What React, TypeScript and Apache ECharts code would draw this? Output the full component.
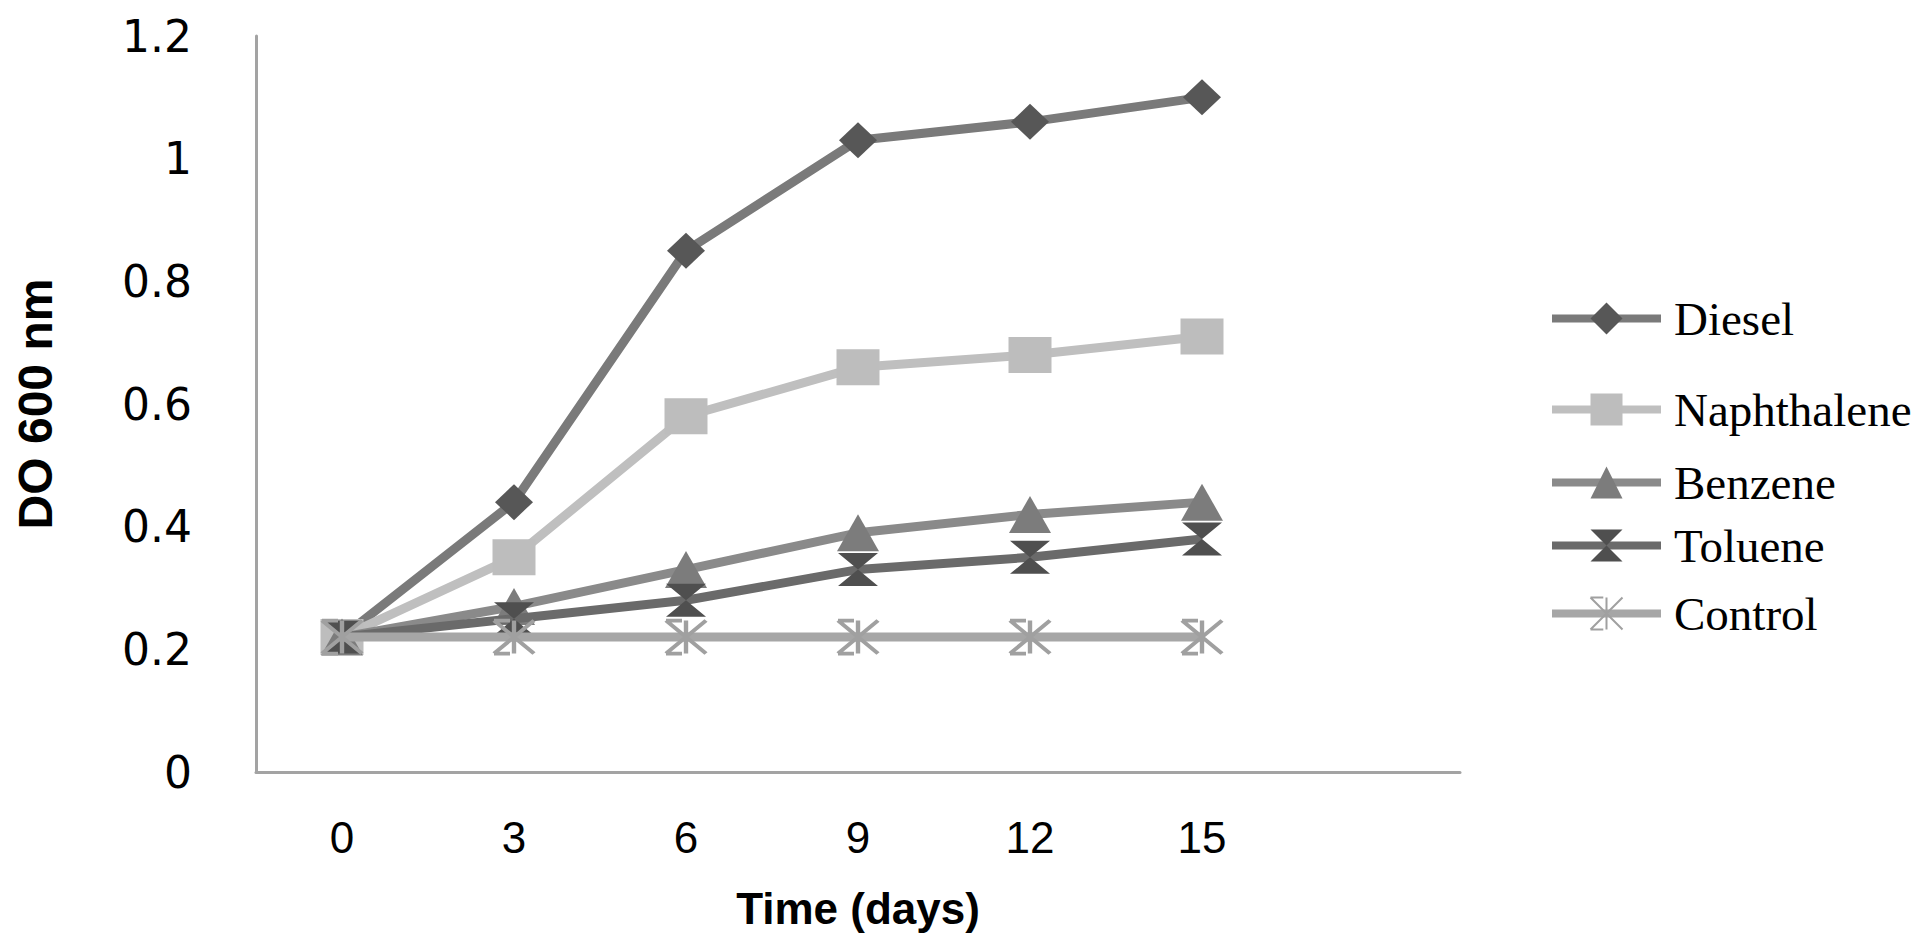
import React, { useEffect, useRef } from "react";
import * as echarts from "echarts";

const days = ["0", "3", "6", "9", "12", "15", ""];
const seriesNames = ["Diesel", "Naphthalene", "Benzene", "Toluene", "Control"];
const diesel = [0.22, 0.44, 0.85, 1.03, 1.06, 1.1];
const naphthalene = [0.22, 0.35, 0.58, 0.66, 0.68, 0.71];
const benzene = [0.22, 0.27, 0.33, 0.39, 0.42, 0.44];
const toluene = [0.22, 0.25, 0.28, 0.33, 0.35, 0.38];
const control = [0.22, 0.22, 0.22, 0.22, 0.22, 0.22];
const yTicks = [0, 0.2, 0.4, 0.6, 0.8, 1, 1.2];

const hourglass = "path://M0,0 L10,0 L5,5 L10,10 L0,10 L5,5 Z";
const star = "path://M0,0 L10,10 M10,0 L0,10 M5,0 L5,10 M0,0 L4,0 M0,10 L4,10";

export default function App() {
  const ref = useRef<HTMLDivElement>(null);
  useEffect(() => {
    if (!ref.current) return;
    const chart = echarts.init(ref.current, null, { renderer: "svg" });
    const values = [diesel, naphthalene, benzene, toluene, control];
    const lineColors = ["#7a7a7a", "#bfbfbf", "#8a8a8a", "#6a6a6a", "#a6a6a6"];
    const markColors = ["#575757", "#bdbdbd", "#7c7c7c", "#4f4f4f", "#a0a0a0"];
    const symbols = ["diamond", "rect", "triangle", hourglass, star];
    const sizes = [[38, 36], [43, 36], [42, 37], [40, 33], [40, 33]];
    const legendY = [315, 406, 479, 542, 610];

    const series = seriesNames.map((name, i) => ({
      name,
      type: "line",
      data: values[i],
      symbol: symbols[i],
      symbolSize: sizes[i],
      symbolKeepAspect: false,
      showAllSymbol: true,
      lineStyle: { color: lineColors[i], width: 9 },
      itemStyle:
        i === 4
          ? { color: markColors[i], borderColor: markColors[i], borderWidth: 4 }
          : { color: markColors[i], borderWidth: 0 },
      emphasis: { disabled: true },
      z: 2 + i,
    }));

    const legend = seriesNames.map((name, i) => ({
      data: [name],
      orient: "vertical",
      left: 1548,
      top: legendY[i] - 20,
      itemWidth: 109,
      itemHeight: 40,
      padding: 0,
      selectedMode: false,
      lineStyle: { width: 8 },
      textStyle: {
        fontFamily: "'Liberation Serif', 'Times New Roman', serif",
        fontSize: 47,
        color: "#000",
        padding: [0, 0, 0, 8],
      },
    }));

    chart.setOption({
      animation: false,
      backgroundColor: "#fff",
      grid: { left: 256, right: 456, top: 36, bottom: 172, outerBoundsMode: "none", containLabel: false },
      legend,
      xAxis: {
        type: "category",
        data: days,
        boundaryGap: true,
        axisLine: { lineStyle: { color: "#a3a3a3", width: 3 } },
        axisTick: { show: false },
        axisLabel: {
          margin: 43,
          fontFamily: "'Liberation Sans Narrow', 'Arial Narrow', 'Liberation Sans', sans-serif",
          fontSize: 44,
          color: "#000",
        },
        name: "Time (days)",
        nameLocation: "middle",
        nameGap: 114,
        nameMoveOverlap: false,
        nameTextStyle: {
          fontFamily: "'Liberation Sans', Arial, sans-serif",
          fontWeight: "bold",
          fontSize: 44,
          color: "#000",
        },
      },
      yAxis: {
        type: "value",
        min: yTicks[0],
        max: yTicks[yTicks.length - 1],
        interval: 0.2,
        splitLine: { show: false },
        axisTick: { show: false },
        axisLine: { show: true, lineStyle: { color: "#a3a3a3", width: 3 } },
        axisLabel: {
          margin: 64,
          fontFamily: "'DejaVu Sans', sans-serif",
          fontSize: 44,
          color: "#000",
        },
        name: "DO 600 nm",
        nameLocation: "middle",
        nameRotate: 90,
        nameGap: 197,
        nameMoveOverlap: false,
        nameTextStyle: {
          fontFamily: "'Liberation Sans', Arial, sans-serif",
          fontWeight: "bold",
          fontSize: 48,
          color: "#000",
        },
      },
      series,
    });
    return () => chart.dispose();
  }, []);
  return (
    <div
      ref={ref}
      style={{ position: "fixed", left: 0, top: 0, width: 1916, height: 944 }}
    />
  );
}
